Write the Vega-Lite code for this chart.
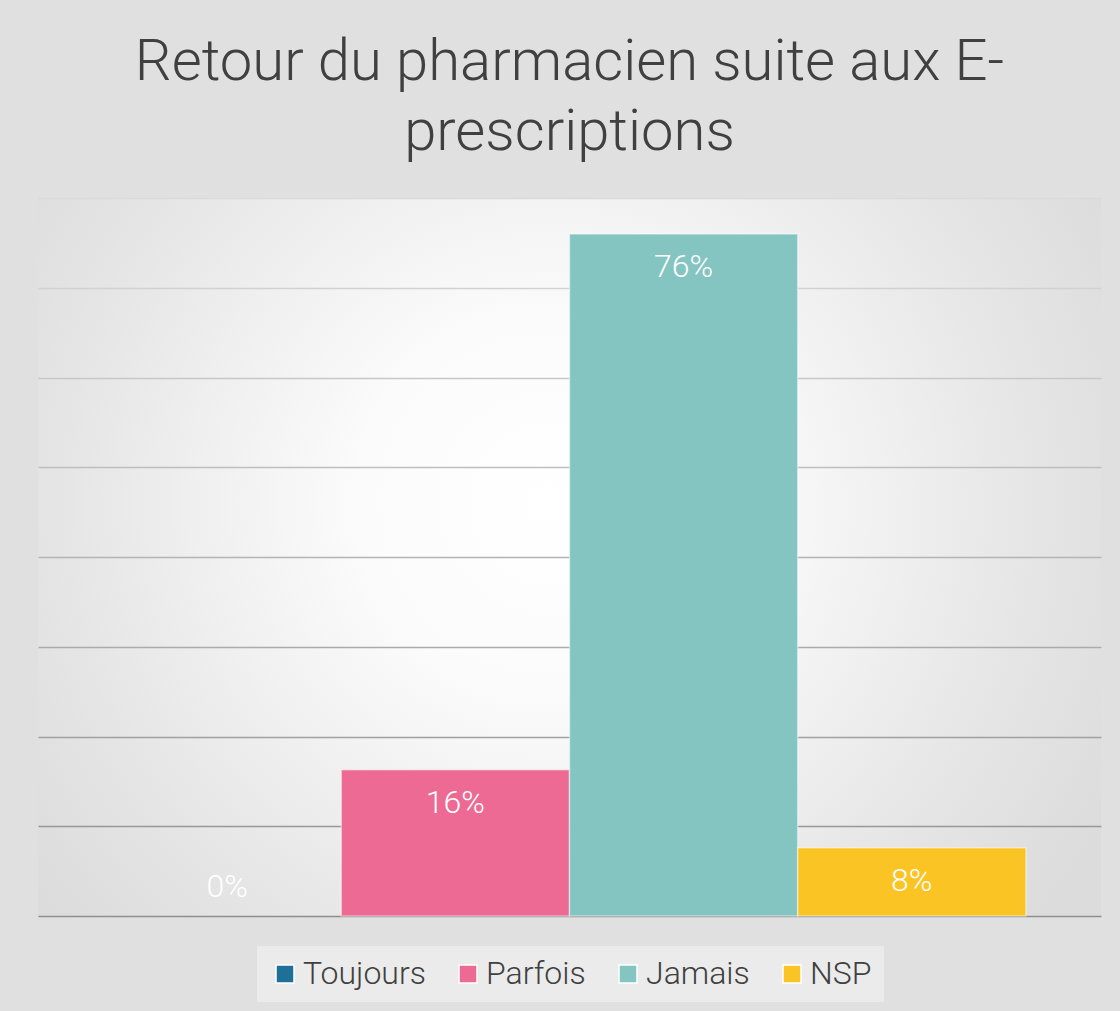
{
  "$schema": "https://vega.github.io/schema/vega-lite/v6.json",
  "width": 1063,
  "height": 718,
  "autosize": {"type": "none"},
  "padding": {"left": 38, "top": 198, "right": 19, "bottom": 95},
  "background": "#e0e0e0",
  "title": {
    "text": ["Retour du pharmacien suite aux E-", "prescriptions"],
    "fontSize": 58,
    "font": "Roboto",
    "fontWeight": 300,
    "color": "#404040",
    "lineHeight": 70,
    "offset": 36,
    "anchor": "middle"
  },
  "data": {
    "values": [
      {"serie": "Toujours", "value": 0},
      {"serie": "Parfois", "value": 0.163},
      {"serie": "Jamais", "value": 0.76},
      {"serie": "NSP", "value": 0.076}
    ]
  },
  "encoding": {
    "x": {
      "field": "serie",
      "type": "nominal",
      "sort": null,
      "scale": {"domain": ["Toujours", "Parfois", "Jamais", "NSP"], "paddingInner": 0, "paddingOuter": 0.329},
      "axis": null
    },
    "y": {
      "field": "value",
      "type": "quantitative",
      "scale": {"domain": [0, 0.8], "nice": false},
      "axis": {
        "values": [0, 0.1, 0.2, 0.3, 0.4, 0.5, 0.6, 0.7, 0.8],
        "labels": false,
        "ticks": false,
        "domain": false,
        "title": null,
        "grid": true,
        "gridWidth": 1.5,
        "gridColor": {"expr": "'rgb(' + round(142 + datum.value*95) + ',' + round(142 + datum.value*95) + ',' + round(142 + datum.value*95) + ')'"}
      }
    }
  },
  "layer": [
    {
      "transform": [{"filter": "datum.value > 0"}],
      "mark": {"type": "bar", "fillOpacity": 1, "stroke": "#ffffff", "strokeOpacity": 0.45, "strokeWidth": 1.5},
      "encoding": {
        "color": {
          "field": "serie",
          "type": "nominal",
          "sort": null,
          "scale": {
            "domain": ["Toujours", "Parfois", "Jamais", "NSP"],
            "range": ["#1f7098", "#ec6a93", "#84c5c2", "#fbc425"]
          },
          "legend": {
            "orient": "none",
            "legendX": 219,
            "legendY": 748,
            "direction": "horizontal",
            "title": null,
            "labelFontSize": 32,
            "labelFont": "Roboto",
            "labelFontWeight": 300,
            "labelColor": "#404040",
            "symbolType": "square",
            "symbolSize": 324,
            "symbolStrokeWidth": 1.5,
            "symbolStrokeColor": "#ffffff",
            "symbolOpacity": 1,
            "labelOffset": 2,
            "columnPadding": 26,
            "padding": 12,
            "fillColor": "#ebebeb"
          }
        }
      }
    },
    {
      "transform": [{"filter": "datum.value > 0"}],
      "mark": {"type": "text", "color": "#ffffff", "dy": 43, "baseline": "alphabetic", "fontSize": 32, "font": "Roboto", "fontWeight": 300},
      "encoding": {"text": {"field": "value", "type": "quantitative", "format": ".0%"}}
    },
    {
      "transform": [{"filter": "datum.value == 0"}],
      "mark": {"type": "text", "color": "#ffffff", "dy": -19, "baseline": "alphabetic", "fontSize": 32, "font": "Roboto", "fontWeight": 300},
      "encoding": {"text": {"field": "value", "type": "quantitative", "format": ".0%"}}
    }
  ],
  "config": {
    "view": {
      "stroke": null,
      "fill": {
        "gradient": "radial",
        "x1": 0.48, "y1": 0.45, "r1": 0,
        "x2": 0.48, "y2": 0.45, "r2": 0.6,
        "stops": [
          {"offset": 0, "color": "#ffffff"},
          {"offset": 0.3, "color": "#fbfbfb"},
          {"offset": 0.75, "color": "#e6e6e6"},
          {"offset": 1, "color": "#dcdcdc"}
        ]
      }
    }
  }
}
